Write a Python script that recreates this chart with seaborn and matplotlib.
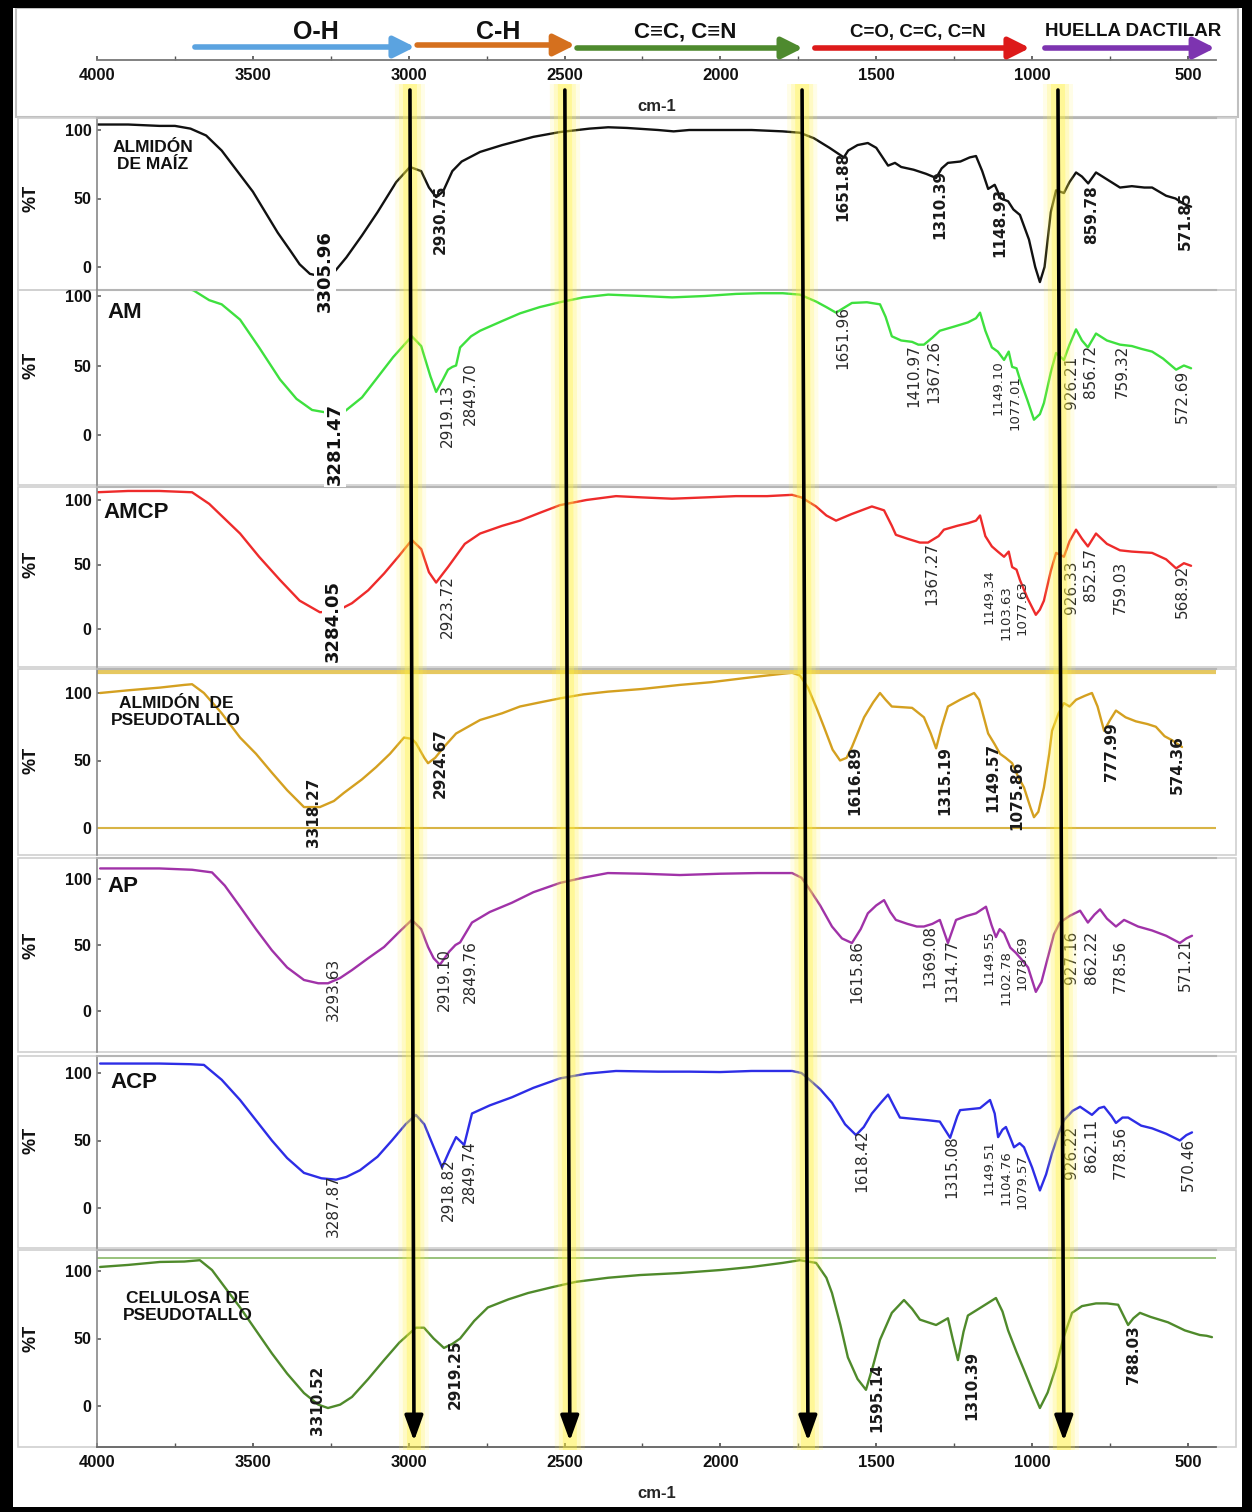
import numpy as np
import pandas as pd
import matplotlib
matplotlib.use("Agg")
import matplotlib.pyplot as plt
import seaborn as sns
from matplotlib.patches import Rectangle, Polygon

# ======================= DATA =======================
# (wavenumber cm-1, %T)
maiz = [(4000,104),(3900,104),(3800,103),(3750,103),(3700,101),(3650,96),(3600,85),(3550,70),
        (3500,55),(3460,40),(3420,25),(3380,12),(3350,2),(3317,-5),(3280,-7),(3240,-4),(3200,7),
        (3150,23),(3100,40),(3040,62),(2996,73),(2960,70),(2935,58),(2912,51),(2890,55),(2860,70),
        (2830,77),(2771,84),(2700,89),(2600,95),(2515,98.5),(2420,101),(2360,102),(2300,101.5),
        (2200,100),(2150,99),(2100,100),(2000,100),(1900,100),(1800,99),(1745,98),(1700,94),
        (1650,87),(1604,80),(1590,85),(1560,89),(1527,90.5),(1500,87),(1462,74),(1440,76),
        (1420,73),(1380,71),(1340,68),(1308,65),(1290,72),(1270,76),(1230,77),(1200,80),(1180,81),
        (1160,70),(1141,57),(1120,60),(1100,50),(1077,48),(1060,42),(1039,38),(1010,20),(990,0),
        (975,-11),(960,0),(940,40),(923,56),(898,54),(880,62),(859,69),(840,66),(820,61),(795,69),
        (760,64),(718,58),(680,59),(640,58),(615,58),(570,52),(540,50),(513,46),(490,44)]

am = [(4000,108),(3750,108),(3690,104),(3640,97),(3600,94),(3541,83),(3480,63),(3413,40),
      (3360,26),(3310,18),(3260,16),(3208,16.5),(3150,27),(3105,40),(3050,56),(2990,71),
      (2960,64),(2930,42),(2912,31),(2890,40),(2874,47),(2860,49),(2848,50),(2835,63),(2800,71),
      (2771,75),(2700,82),(2643,87.5),(2580,92),(2515,95.5),(2440,99),(2360,101),(2250,100),
      (2155,99),(2050,100),(1950,101.5),(1873,102),(1800,102),(1745,101),(1693,96),(1660,92),
      (1629,88),(1600,92),(1578,95),(1530,95.5),(1488,94),(1470,85),(1450,71),(1420,68),
      (1385,67),(1365,65),(1347,65),(1320,70),(1296,75),(1250,78),(1206,81),(1180,84),(1167,88),
      (1150,75),(1129,63),(1110,60),(1090,54),(1075,60),(1064,49),(1050,48),(1039,40),(1015,25),
      (994,11),(975,15),(962,23),(940,45),(923,59),(898,54),(880,65),(859,76),(840,68),(821,63),
      (795,73),(760,68),(718,65),(680,64),(650,62),(615,60),(580,55),(538,47),(513,50),(490,48)]

amcp = [(4000,106),(3900,107),(3800,107),(3695,106),(3640,97),(3541,74),(3480,56),(3413,38),
        (3350,22),(3285,13),(3230,14),(3182,20),(3130,30),(3079,43),(3030,57),(2990,69),(2960,62),
        (2935,44),(2912,36),(2890,43),(2874,48),(2820,66),(2771,74),(2700,80),(2643,84),(2580,90),
        (2515,96),(2430,100),(2335,103),(2250,102),(2155,101),(2050,102),(1950,103),(1850,103),
        (1770,104),(1740,102),(1693,95),(1660,88),(1629,84),(1580,89),(1514,95),(1475,92),
        (1450,80),(1437,73),(1400,70),(1360,67),(1334,67),(1300,72),(1283,77),(1240,80),(1206,82),
        (1180,84),(1167,88),(1150,72),(1129,64),(1110,60),(1090,56),(1075,60),(1064,48),(1050,46),
        (1039,38),(1015,24),(988,11),(975,15),(962,22),(940,45),(923,59),(898,56),(880,68),(859,77),
        (840,70),(821,64),(795,74),(760,66),(718,61),(680,60),(615,59),(570,54),(538,47),(513,51),
        (490,49)]

pseudotallo = [(3990,100),(3900,102),(3798,104),(3720,106),(3695,106.5),(3657,100),(3600,85),
               (3541,67),(3490,55),(3439,41),(3390,28),(3336,15.5),(3285,15.5),(3240,20),(3208,26),
               (3150,36),(3105,45),(3060,55),(3015,67),(2990,66),(2977,63),(2950,52),(2938,48),
               (2915,52),(2887,60),(2848,70),(2771,80),(2700,85),(2643,90),(2580,93),(2515,96),
               (2440,99),(2361,101),(2250,103),(2130,106),(2030,108),(1924,111),(1850,113),
               (1770,115),(1745,113),(1719,104),(1690,88),(1668,75),(1640,58),(1616,50),(1595,52),
               (1578,60),(1539,82),(1510,93),(1488,100),(1470,95),(1450,90),(1385,89),(1347,82),
               (1325,70),(1308,59),(1290,75),(1270,90),(1231,95),(1186,100),(1170,95),(1141,70),
               (1120,62),(1103,55),(1085,52),(1064,48),(1045,38),(1026,30),(1005,15),(994,8),
               (980,12),(962,30),(945,55),(936,72),(915,85),(898,92.5),(880,90),(859,95),(830,98),
               (808,100),(790,90),(769,72),(750,80),(731,87),(700,82),(667,79),(630,77),(603,75),
               (575,68),(551,65),(519,60)]

ap = [(3990,108),(3900,108),(3800,108),(3695,107),(3631,105),(3590,95),(3541,79),(3490,62),
      (3439,46),(3390,33),(3336,23.5),(3290,21),(3259,21),(3220,25),(3182,31),(3130,40),
      (3079,48.5),(3030,60),(2990,69),(2960,62),(2938,48.5),(2920,40),(2900,35),(2870,45),
      (2850,50),(2835,52),(2797,67),(2740,75),(2669,82),(2600,90),(2515,97),(2440,101),
      (2361,104.5),(2250,104),(2130,103),(2000,104),(1880,104.5),(1770,104.5),(1740,101),
      (1719,94),(1680,80),(1642,64),(1610,55),(1578,51.5),(1550,62),(1527,74),(1500,80),
      (1475,84),(1455,75),(1437,69),(1400,66),(1370,64),(1347,64),(1320,66),(1296,69),
      (1270,51.5),(1244,69),(1210,72),(1180,74),(1148,79),(1130,65),(1116,56),(1104,62),
      (1090,59),(1070,48),(1052,44),(1030,38),(1013,33),(988,14.5),(970,22),(949,41),(930,58),
      (911,67),(880,72),(846,76),(821,67),(800,73),(782,77),(760,70),(731,64),(705,69),(660,64),
      (615,61),(570,57),(526,51.5),(505,55),(487,57)]

acp = [(3990,107),(3800,107),(3700,106.5),(3657,106),(3600,95),(3541,80),(3490,65),(3439,50),
       (3390,37),(3336,26),(3280,22),(3233,21),(3200,23),(3156,28),(3100,38),(3054,50),(3010,62),
       (2977,69),(2950,62),(2925,48),(2893,30),(2870,42),(2848,52.5),(2822,46.7),(2797,70),
       (2740,76),(2669,82),(2600,89),(2515,96),(2430,99.5),(2335,101.5),(2200,101),(2100,101),
       (2001,100.7),(1900,101.5),(1770,101.5),(1740,100),(1719,96),(1680,88),(1642,78),
       (1600,62),(1565,54),(1540,60),(1514,70),(1485,78),(1462,84),(1440,74),(1424,67),
       (1380,66),(1334,65),(1296,64),(1263,52),(1240,68),(1231,72.5),(1167,74),(1135,80),
       (1120,70),(1109,52.5),(1095,58),(1084,60),(1070,52),(1058,45),(1040,48),(1026,45),
       (1000,30),(975,13),(955,25),(936,40.6),(915,55),(898,65),(870,72),(846,75),(808,69),
       (785,74),(769,75),(745,68),(731,63),(710,67),(692,67),(650,61),(615,59),(570,55),
       (526,50),(505,54),(487,56)]

celulosa = [(3990,103),(3900,104.5),(3798,106.7),(3720,107),(3670,108),(3631,100.7),(3590,88),
            (3541,73),(3490,56),(3439,39),(3390,24),(3336,9.6),(3290,1),(3259,-1.5),(3220,1),
            (3182,6.7),(3130,20),(3079,34),(3030,47),(2977,58),(2951,58),(2920,50),(2887,43),
            (2860,46),(2835,50),(2790,63),(2746,73),(2680,79),(2617,83.7),(2540,88),(2463,92),
            (2360,95),(2258,97),(2130,98.5),(2001,100.7),(1900,103),(1800,106),(1745,108),
            (1693,106),(1660,95),(1642,83.7),(1615,60),(1591,36),(1560,20),(1533,12),(1510,30),
            (1488,49),(1450,69),(1411,78.5),(1385,72),(1360,64),(1308,60),(1270,65),(1255,50),
            (1238,34),(1220,55),(1206,67),(1167,72.6),(1116,80),(1095,70),(1077,56),(1050,40),
            (1026,26.7),(1000,12),(975,-1.5),(950,10),(923,29),(900,50),(872,69),(840,74),
            (795,76),(760,76),(724,75),(692,60),(675,65),(654,69),(620,66),(564,62),(510,56),
            (462,52.6),(440,52),(423,51)]

sample_names = ["ALMIDÓN\nDE MAÍZ", "AM", "AMCP", "ALMIDÓN  DE\nPSEUDOTALLO", "AP", "ACP",
                "CELULOSA DE\nPSEUDOTALLO"]

# peak labels: (text, wavenumber position, %T of label top, style)
peaks_maiz = [("3305.96", 3269, 27, "big"), ("2930.75", 2900, 60, "bold"),
              ("1651.88", 1607, 84, "bold"), ("1310.39", 1296, 71, "bold"),
              ("1148.93", 1103, 58, "bold"), ("859.78", 808, 60, "bold"),
              ("571.85", 509, 55, "bold")]
peaks_am = [("3281.47", 3236, 23, "big"), ("2919.13", 2877, 37, "reg"), ("2849.70", 2803, 52, "reg"),
            ("1651.96", 1607, 93, "reg"), ("1410.97", 1378, 65, "reg"), ("1367.26", 1315, 68, "reg"),
            ("1149.10", 1110, 54, "small"), ("1077.01", 1055, 43, "small"), ("926.21", 875, 57, "reg"),
            ("856.72", 814, 65, "reg"), ("759.32", 712, 65, "reg"), ("572.69", 519, 47, "reg")]
peaks_amcp = [("3284.05", 3243, 38, "big"), ("2923.72", 2877, 42, "reg"), ("1367.27", 1321, 67, "reg"),
              ("1149.34", 1137, 46, "small"), ("1103.63", 1085, 34, "small"),
              ("1077.63", 1033, 38, "small"),
              ("926.33", 875, 53, "reg"), ("852.57", 814, 63, "reg"), ("759.03", 718, 53, "reg"),
              ("568.92", 519, 50, "reg")]
peaks_pseudo = [("3318.27", 3307, 37, "bold"), ("2924.67", 2900, 74, "bold"),
                ("1616.89", 1568, 61, "bold"), ("1315.19", 1280, 61, "bold"),
                ("1149.57", 1125, 63, "bold"), ("1075.86", 1049, 50, "bold"),
                ("777.99", 744, 78, "bold"), ("574.36", 535, 69, "bold")]
peaks_ap = [("3293.63", 3243, 40, "reg"), ("2919.10", 2884, 48, "reg"), ("2849.76", 2803, 54, "reg"),
            ("1615.86", 1562, 54, "reg"), ("1369.08", 1328, 65, "reg"), ("1314.77", 1257, 54, "reg"),
            ("1149.55", 1137, 61, "small"), ("1102.78", 1085, 46, "small"),
            ("1078.69", 1033, 57, "small"),
            ("927.16", 872, 61, "reg"), ("862.22", 808, 61, "reg"), ("778.56", 718, 54, "reg"),
            ("571.21", 509, 55, "reg")]
peaks_acp = [("3287.87", 3243, 25, "reg"), ("2918.82", 2872, 37, "reg"), ("2849.74", 2805, 50, "reg"),
             ("1618.42", 1546, 58, "reg"), ("1315.08", 1257, 54, "reg"),
             ("1149.51", 1137, 50, "small"), ("1104.76", 1085, 43, "small"),
             ("1079.57", 1033, 40, "small"), ("926.22", 872, 61, "reg"),
             ("862.11", 808, 66, "reg"), ("778.56", 718, 61, "reg"), ("570.46", 500, 52, "reg")]
peaks_cel = [("3310.52", 3291, 30, "bold"), ("2919.25", 2851, 49, "bold"),
             ("1595.14", 1498, 32, "bold"), ("1310.39", 1193, 41, "bold"),
             ("788.03", 676, 60, "bold")]

regions = ["O-H", "C-H", "C≡C, C≡N", "C=O, C=C, C=N", "HUELLA DACTILAR"]
region_start = [3686, 2973, 2460, 1697, 959]
region_end = [2980, 2466, 1735, 1007, 413]
region_label_x = [3297, 2713, 2114, 1366, 676]
highlight_top = [2996, 2499, 1738, 917]
highlight_bottom = [2983, 2483, 1719, 898]
x_ticks = [4000, 3500, 3000, 2500, 2000, 1500, 1000, 500]
y_ticks = [0, 50, 100]

# ======================= LAYOUT / STYLE =======================
sns.set_theme(style="white")
NARROW = ["Liberation Sans", "DejaVu Sans"]
plt.rcParams["font.family"] = ["DejaVu Sans"]

W, H = 1252, 1512
X0, X1 = 97, 1216
WN_MAX, WN_MIN = 4000, 410
PXW = (X1 - X0) / (WN_MAX - WN_MIN)

def fx(px):
    return px / W

def fy(py):
    return 1 - py / H

fig = plt.figure(figsize=(W / 100, H / 100), dpi=100)
fig.patch.set_facecolor("white")

series = [maiz, am, amcp, pseudotallo, ap, acp, celulosa]
peaks = [peaks_maiz, peaks_am, peaks_amcp, peaks_pseudo, peaks_ap, peaks_acp, peaks_cel]
colors = ["#111111", "#3ee03e", "#ee2b2b", "#d4a020", "#a032a8", "#2d2de6", "#4f8a2b"]
# panel pixel geometry: top, bottom, y(100), y(0)
geom = [(118, 290, 130, 267), (290, 485, 296, 435), (487, 667, 500, 629),
        (669, 855, 693, 828), (858, 1052, 879, 1011), (1056, 1248, 1073, 1208),
        (1250, 1447, 1271, 1406)]
# name label: x(center or left), y, size, horizontal alignment
name_pos = [(153, 156, 12.5, "center"), (107, 313, 16, "left"), (103, 513, 16, "left"),
            (176, 712, 12.5, "center"), (107, 887, 16, "left"), (110, 1082, 16, "left"),
            (188, 1307, 12.5, "center")]

def style_ticklabels(ax, which, size):
    labels = ax.get_xticklabels() if which == "x" else ax.get_yticklabels()
    for lab in labels:
        lab.set_fontfamily(NARROW)
        lab.set_fontweight("bold")
        lab.set_fontsize(size)
        lab.set_color("#111111")

# ---------- header (region arrows + top axis) ----------
fig.add_artist(Rectangle((fx(16), fy(117)), fx(1238) - fx(16), (117 - 8) / H,
                         transform=fig.transFigure, fill=False, ec="#c0c0c0", lw=1.5))
axh = fig.add_axes([fx(X0), fy(60), fx(X1) - fx(X0), 50 / H])
axh.set_xlim(WN_MAX, WN_MIN)
axh.set_ylim(0, 1)
axh.patch.set_alpha(0)
for s in ["top", "left", "right"]:
    axh.spines[s].set_visible(False)
axh.spines["bottom"].set_color("#777777")
axh.spines["bottom"].set_linewidth(1.3)
axh.set_yticks([])
axh.set_xticks(x_ticks)
axh.set_xticks(np.arange(3750, 400, -250), minor=True)
axh.tick_params(axis="x", which="both", direction="in", length=3, color="#555555", pad=6, bottom=True)
style_ticklabels(axh, "x", 12)
axh.set_xlabel("cm-1", fontsize=12, fontweight="bold", family=NARROW, labelpad=11)
reg_colors = ["#5ba3e0", "#d5701e", "#4e8a2e", "#dd1a1a", "#7d34b0"]
reg_y = [0.26, 0.30, 0.24, 0.24, 0.24]
reg_sizes = [18, 18, 16, 13.5, 13.5]
for lab, s0, s1, lx, c, yy, fs in zip(regions, region_start, region_end, region_label_x,
                                      reg_colors, reg_y, reg_sizes):
    axh.annotate("", xy=(s1, yy), xytext=(s0, yy),
                 arrowprops=dict(arrowstyle="-|>,head_width=0.35,head_length=0.7", lw=4,
                                 color=c, shrinkA=0, shrinkB=0, mutation_scale=18))
    axh.text(lx, 0.56, lab, ha="center", va="center", fontsize=fs, fontweight="bold",
             family=NARROW, color="#111111")

# ---------- spectra panels ----------
styles = {"big": dict(fontsize=13, fontweight="bold", color="#111111"),
          "bold": dict(fontsize=11, fontweight="bold", color="#1a1a1a"),
          "reg": dict(fontsize=11, fontweight="normal", color="#2a2a2a"),
          "small": dict(fontsize=9.5, fontweight="normal", color="#2a2a2a")}

for i, (data, pk, col, (top, bot, y100, y0), name, (nx, ny, nfs, nha)) in enumerate(
        zip(series, peaks, colors, geom, sample_names, name_pos)):
    s = (y0 - y100) / 100.0
    ylo = -(bot - y0) / s
    yhi = 100 + (y100 - top) / s
    fig.add_artist(Rectangle((fx(18), fy(bot)), fx(1236) - fx(18), (bot - top) / H,
                             transform=fig.transFigure, fill=False, ec="#d0d0d0", lw=1.2))
    ax = fig.add_axes([fx(X0), fy(bot), fx(X1) - fx(X0), (bot - top) / H])
    ax.set_zorder(20 - i)
    ax.patch.set_alpha(0)
    df = pd.DataFrame(data, columns=["wn", "T"])
    sns.lineplot(data=df, x="wn", y="T", ax=ax, color=col, lw=1.7, sort=False,
                 estimator=None, legend=False)
    ax.set_xlim(WN_MAX, WN_MIN)
    ax.set_ylim(ylo, yhi)
    ax.set_xlabel("")
    ax.set_ylabel("")
    ax.set_yticks(y_ticks)
    ax.tick_params(axis="y", direction="in", length=3, color="#666666", pad=4, left=True)
    style_ticklabels(ax, "y", 11.5)
    ax.spines["right"].set_visible(False)
    ax.spines["left"].set_color("#888888")
    ax.spines["left"].set_linewidth(1.2)
    ax.spines["top"].set_color("#b5b5b5")
    ax.spines["top"].set_linewidth(1.5)
    if i == len(series) - 1:
        ax.spines["bottom"].set_color("#666666")
        ax.spines["bottom"].set_linewidth(1.3)
        ax.set_xticks(x_ticks)
        ax.set_xticks(np.arange(3750, 400, -250), minor=True)
        ax.tick_params(axis="x", which="both", direction="in", length=3, color="#555555",
                       pad=6, bottom=True)
        style_ticklabels(ax, "x", 12)
        ax.set_xlabel("cm-1", fontsize=12, fontweight="bold", family=NARROW, labelpad=11)
        ax.axhline(110, color="#86b865", lw=1.2)
    else:
        ax.spines["bottom"].set_visible(False)
        ax.set_xticks([])
    if i == 3:
        ax.axhline(0, color="#d8b445", lw=1.5)
        ax.axhline(115.5, color="#e6c860", lw=3)
    for txt, px, pt, st in pk:
        kw = dict(styles[st])
        if st == "big":
            kw["bbox"] = dict(fc="white", ec="none", pad=1.5)
        ax.text(px, pt, txt, rotation=90, ha="center", va="top", clip_on=False,
                zorder=30, **kw)
    fig.text(fx(nx), fy(ny), name, ha=nha, va="center", fontsize=nfs, fontweight="bold",
             family=NARROW, color="#111111", linespacing=1.1, zorder=40,
             multialignment="center")
    fig.text(fx(31), fy(y0 - 50 * s), "%T", rotation=90, ha="center", va="center",
             fontsize=13, fontweight="bold", family=NARROW, color="#111111")

# ---------- highlight bands and arrows ----------
ov = fig.add_axes([fx(X0), 0, fx(X1) - fx(X0), 1])
ov.set_zorder(60)
ov.set_xlim(WN_MAX, WN_MIN)
ov.set_ylim(H, 0)
ov.axis("off")
ov.patch.set_alpha(0)
for wt, wb in zip(highlight_top, highlight_bottom):
    for hw, a in [(15, 0.12), (11, 0.2), (7, 0.32)]:
        d = hw / PXW
        ov.add_patch(Polygon([(wt + d, 84), (wt - d, 84), (wb - d, 1450), (wb + d, 1450)],
                             closed=True, fc="#fff23a", ec="none", alpha=a))
    ov.annotate("", xy=(wb, 1441), xytext=(wt, 90),
                arrowprops=dict(arrowstyle="-|>,head_width=0.4,head_length=1.1", lw=2.6,
                                color="black", shrinkA=0, shrinkB=0, mutation_scale=14))

# ---------- outer black border ----------
for (bx, by, bw, bh) in [(0, 0, 13, H), (0, 0, W, 8), (W - 10, 0, 10, H), (0, H - 5, W, 5)]:
    fig.add_artist(Rectangle((fx(bx), fy(by + bh)), bw / W, bh / H, transform=fig.transFigure,
                             fc="black", ec="none", zorder=100))

fig.savefig("out.png", dpi=100, facecolor="white")
